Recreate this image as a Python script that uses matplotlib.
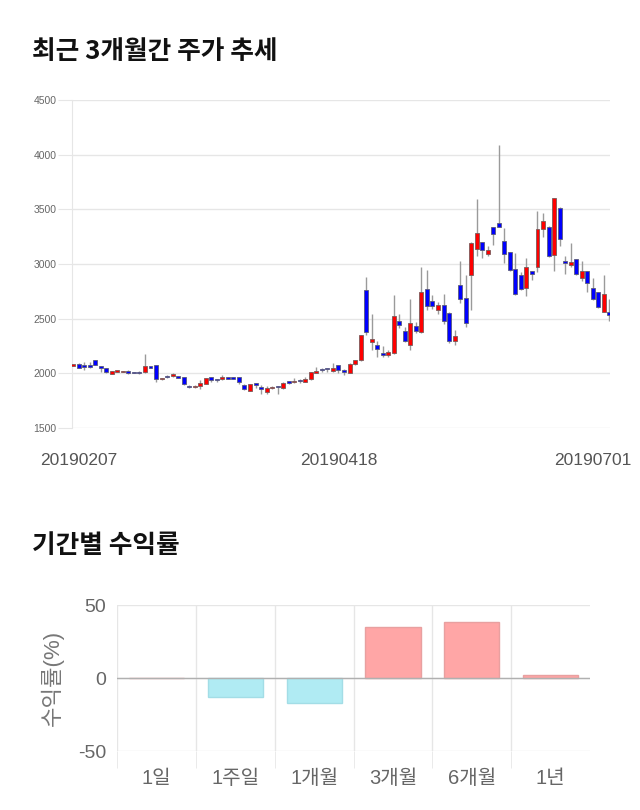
import matplotlib
matplotlib.use('Agg')
import matplotlib.pyplot as plt
import numpy as np

plt.rcParams['font.family'] = ['Liberation Sans', 'Noto Sans CJK KR', 'DejaVu Sans']
plt.rcParams['axes.unicode_minus'] = False

# 일봉 데이터 (시가, 고가, 저가, 종가)
opens = [2070, 2088, 2062, 2062, 2118, 2065, 2045, 1995, 2015, 2010,
         2025, 2005, 2005, 2010, 2055, 2075, 1945, 1978, 1975, 1978,
         1963, 1882, 1872, 1885, 1905, 1962, 1937, 1945, 1965, 1965,
         1965, 1895, 1842, 1905, 1878, 1825, 1865, 1875, 1865, 1930,
         1920, 1932, 1925, 1945, 2005, 2032, 2040, 2020, 2078, 2035,
         2005, 2085, 2120, 2762, 2290, 2255, 2185, 2170, 2190, 2480,
         2390, 2255, 2435, 2375, 2770, 2665, 2575, 2625, 2550, 2295,
         2810, 2685, 2900, 3135, 3200, 3090, 3335, 3375, 3210, 3105,
         2955, 2900, 2780, 2935, 2975, 3320, 3335, 3080, 3515, 3017,
         2990, 3045, 2875, 2935, 2780, 2740, 2565, 2565]
highs = [2080, 2092, 2105, 2100, 2120, 2068, 2048, 2022, 2022, 2022,
         2028, 2010, 2020, 2175, 2060, 2078, 1960, 1985, 2000, 1980,
         1965, 1895, 1895, 1935, 1958, 1965, 1945, 1985, 1970, 1968,
         1968, 1898, 1905, 1908, 1890, 1880, 1888, 1880, 1925, 1932,
         1960, 1945, 1965, 2015, 2055, 2045, 2040, 2092, 2080, 2040,
         2090, 2125, 2355, 2885, 2540, 2295, 2250, 2215, 2715, 2540,
         2420, 2680, 2470, 2975, 2945, 2720, 2650, 2725, 2560, 2400,
         3030, 2900, 3200, 3595, 3205, 3160, 3340, 4090, 3330, 3110,
         3100, 2930, 3055, 2940, 3485, 3465, 3350, 3605, 3520, 3075,
         3190, 3050, 3025, 2940, 2870, 2745, 2895, 2680]
lows = [2065, 2048, 2035, 2050, 2075, 2012, 2005, 1990, 2010, 2008,
        1995, 2000, 1995, 2005, 2045, 1925, 1940, 1955, 1970, 1955,
        1895, 1862, 1865, 1860, 1900, 1918, 1925, 1940, 1945, 1945,
        1905, 1850, 1835, 1870, 1810, 1815, 1855, 1815, 1860, 1905,
        1915, 1915, 1920, 1940, 2000, 2015, 2010, 2010, 2000, 1985,
        2000, 2075, 2110, 2350, 2215, 2150, 2150, 2150, 2180, 2410,
        2285, 2215, 2370, 2370, 2580, 2585, 2545, 2450, 2280, 2260,
        2640, 2425, 2575, 3070, 3055, 3075, 3175, 3335, 3010, 2935,
        2715, 2760, 2710, 2855, 2930, 3250, 3060, 2940, 3160, 2905,
        2970, 2895, 2840, 2740, 2675, 2600, 2560, 2475]
closes = [2075, 2052, 2060, 2060, 2080, 2050, 2010, 2020, 2015, 2018,
          2002, 2004, 2004, 2065, 2052, 1945, 1950, 1963, 1990, 1960,
          1900, 1872, 1878, 1912, 1955, 1940, 1935, 1965, 1950, 1948,
          1925, 1855, 1900, 1895, 1855, 1865, 1875, 1874, 1915, 1915,
          1930, 1930, 1948, 2010, 2025, 2030, 2038, 2050, 2027, 2010,
          2085, 2120, 2350, 2382, 2310, 2225, 2170, 2195, 2520, 2440,
          2295, 2460, 2390, 2745, 2615, 2620, 2625, 2480, 2295, 2340,
          2680, 2460, 3195, 3285, 3125, 3125, 3275, 3340, 3090, 2945,
          2725, 2770, 2970, 2905, 3320, 3390, 3070, 3600, 3230, 3013,
          3015, 2905, 2935, 2830, 2680, 2605, 2725, 2530]
date_ticks = [1, 48, 94]
date_labels = ['20190207', '20190418', '20190701']

# 기간별 수익률
periods = ['1일', '1주일', '1개월', '3개월', '6개월', '1년']
returns = [0.0, -12.9, -17.3, 35.0, 38.6, 2.3]

fig = plt.figure(figsize=(6.4, 8.1), dpi=100)

fig.text(0.05, 0.937, '최근 3개월간 주가 추세', fontsize=18.5, fontweight='bold',
         family=['Noto Sans CJK KR'], va='center', ha='left', color='#111111')
fig.text(0.05, 0.327, '기간별 수익률', fontsize=18.5, fontweight='bold',
         family=['Noto Sans CJK KR'], va='center', ha='left', color='#111111')

# 캔들 차트
ax = fig.add_axes([0.1125, 0.4716, 0.8405, 0.405])
o = np.array(opens, dtype=float)
h = np.array(highs, dtype=float)
l = np.array(lows, dtype=float)
c = np.array(closes, dtype=float)
idx = np.arange(len(o))
up = c >= o
body_lo = np.minimum(o, c)
body_h = np.maximum(np.abs(c - o), 12)
ax.vlines(idx, l, h, color='#9a9a9a', linewidth=1, zorder=2)
ax.bar(idx[up], body_h[up], bottom=body_lo[up], width=0.72,
       color='#ff0000', edgecolor='#7a5a5a', linewidth=0.6, zorder=3)
ax.bar(idx[~up], body_h[~up], bottom=body_lo[~up], width=0.72,
       color='#0000ff', edgecolor='#5a5a7a', linewidth=0.6, zorder=3)

ax.set_xlim(-0.2, 97.1)
ax.set_ylim(1500, 4500)
ax.set_yticks([1500, 2000, 2500, 3000, 3500, 4000, 4500])
ax.set_xticks(date_ticks)
ax.set_xticklabels(date_labels)
ax.grid(axis='y', color='#e6e6e6', linewidth=1)
ax.set_axisbelow(True)
for s in ['top', 'right', 'bottom']:
    ax.spines[s].set_visible(False)
ax.spines['left'].set_color('#e6e6e6')
ax.tick_params(axis='y', length=10, color='#e6e6e6', labelsize=7.5,
               labelcolor='#666666', pad=1)
ax.tick_params(axis='x', length=0, labelsize=12.5, labelcolor='#555555', pad=18)

# 수익률 막대 차트
bx = fig.add_axes([0.183, 0.0728, 0.739, 0.1802])
pos = np.arange(len(periods))
fill = ['#ffa6a6' if v >= 0 else '#b0ebf3' for v in returns]
edge = ['#e8a0a0' if v >= 0 else '#a3dde6' for v in returns]
bx.bar(pos, returns, width=0.7, color=fill, edgecolor=edge, linewidth=1, zorder=3)
bx.axhline(0, color='#b0b0b0', linewidth=1, zorder=4)
bx.set_xlim(-0.5, 5.5)
bx.set_ylim(-50, 50)
bx.set_yticks([-50, 0, 50])
bx.set_xticks(pos)
bx.set_xticklabels(periods)
bx.set_xticks(np.arange(-0.5, 5.0, 1.0), minor=True)
bx.grid(axis='x', which='minor', color='#e6e6e6', linewidth=1)
bx.grid(axis='y', which='major', color='#e6e6e6', linewidth=1)
bx.set_axisbelow(True)
for s in ['top', 'right', 'bottom', 'left']:
    bx.spines[s].set_visible(False)
bx.tick_params(axis='x', which='major', length=0, labelsize=14.5,
               labelcolor='#666666', pad=13)
bx.tick_params(axis='x', which='minor', length=12, color='#e6e6e6')
bx.tick_params(axis='y', length=0, labelsize=14, labelcolor='#666666', pad=8)
bx.set_ylabel('수익률(%)', fontsize=16, color='#777777', labelpad=10)

fig.savefig('out.png', dpi=100)
